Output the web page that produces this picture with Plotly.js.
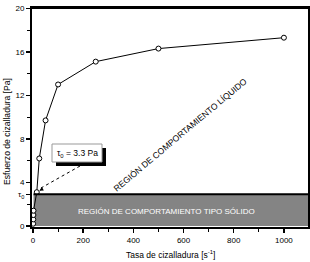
<!DOCTYPE html>
<html>
<head>
<meta charset="utf-8">
<script src="https://cdn.plot.ly/plotly-3.0.1.min.js"></script>
<style>html,body{margin:0;padding:0;background:#fff;}#chart{width:310px;height:262px;}</style>
</head>
<body>
<div id="chart"></div>
<script>
// Data
var shearRate = [0.5, 1, 1.5, 2, 15, 25, 50, 100, 250, 500, 1000];
var shearStress = [0.2, 0.6, 1.0, 1.4, 3.1, 6.2, 9.7, 13.0, 15.1, 16.3, 17.3];
var yTickVals = [0, 2.9, 4, 8, 12, 16, 20];
var yTickText = ['0', 'τ<sub>0</sub>', '4', '8', '12', '16', '20'];
var xTickVals = [0, 200, 400, 600, 800, 1000];
var xTickText = ['0', '200', '400', '600', '800', '1000'];
var tau0 = 2.9;          // top of solid-like region band
var tau0Label = 'τ<sub>0</sub> = 3.3 Pa';
var liquidLabel = 'REGIÓN DE COMPORTAMIENTO LÍQUIDO';
var solidLabel = 'REGIÓN DE COMPORTAMIENTO TIPO SÓLIDO';
var xTitle = 'Tasa de cizalladura [s<sup>-1</sup>]';
var yTitle = 'Esfuerzo de cizalladura [Pa]';

var FONT = '"Liberation Sans", Arial, sans-serif';

// plot area in pixels: x 32..308, y 8..227
var L = 32, R = 308, T = 8, B = 227;
function px(x) { return (x - L) / (R - L); }
function py(y) { return (B - y) / (B - T); }

var trace = {
  x: shearRate, y: shearStress, type: 'scatter', mode: 'lines+markers',
  line: {color: '#000', width: 1},
  marker: {symbol: 'circle', size: 5, color: '#fff', line: {color: '#000', width: 1}},
  hoverinfo: 'none', cliponaxis: false
};

var layout = {
  width: 310, height: 262,
  margin: {l: L, r: 310 - R, t: T, b: 262 - B, pad: 0},
  paper_bgcolor: '#fff', plot_bgcolor: '#fff',
  showlegend: false,
  font: {family: FONT, size: 8, color: '#000'},
  xaxis: {
    range: [-4, 1096], showgrid: false, zeroline: false,
    showline: true, linecolor: '#000', linewidth: 2, mirror: true,
    ticks: 'outside', ticklen: 4, tickwidth: 1.5, tickcolor: '#000',
    tickvals: xTickVals, ticktext: xTickText, ticklabeloverflow: 'allow',
    minor: {ticks: 'outside', ticklen: 3, tickwidth: 1, tickcolor: '#000', dtick: 100, tick0: 0},
    tickfont: {family: FONT, size: 8}
  },
  yaxis: {
    range: [-0.1, 20.03], showgrid: false, zeroline: false,
    showline: true, linecolor: '#000', linewidth: 2, mirror: true,
    ticks: 'outside', ticklen: 4, tickwidth: 1.5, tickcolor: '#000',
    tickvals: yTickVals, ticktext: yTickText, ticklabeloverflow: 'allow',
    minor: {ticks: 'outside', ticklen: 3, tickwidth: 1, tickcolor: '#000', dtick: 2, tick0: 0},
    tickfont: {family: FONT, size: 8}
  },
  shapes: [
    {type: 'rect', xref: 'x', yref: 'y', x0: 2, x1: 1096, y0: 0, y1: tau0,
     fillcolor: '#848484', line: {width: 0}, layer: 'below'},
    {type: 'line', xref: 'x', yref: 'y', x0: 2, x1: 1096, y0: tau0, y1: tau0,
     line: {color: '#000', width: 2}},
    // top frame line
    {type: 'line', xref: 'paper', yref: 'paper', x0: 0, x1: 1, y0: 1, y1: 1,
     line: {color: '#000', width: 2}},
    // shadow of label box
    {type: 'rect', xref: 'paper', yref: 'paper', x0: px(56), x1: px(106), y0: py(148), y1: py(166),
     fillcolor: '#000', line: {width: 0}},
    {type: 'rect', xref: 'paper', yref: 'paper', x0: px(52), x1: px(102), y0: py(144), y1: py(162),
     fillcolor: '#fff', line: {color: '#999', width: 1}},
    // dotted pointer
    {type: 'line', xref: 'paper', yref: 'paper', x0: px(80), x1: px(41), y0: py(166), y1: py(188),
     line: {color: '#000', width: 1, dash: 'dot'}}
  ],
  annotations: [
    {xref: 'paper', yref: 'paper', x: px(77), y: py(153), text: tau0Label, showarrow: false,
     font: {family: FONT, size: 8.5, color: '#000'}, xanchor: 'center', yanchor: 'middle'},
    {xref: 'x', yref: 'y', x: 15, y: 3.1, text: '', showarrow: true, arrowhead: 2, arrowsize: 0.8,
     arrowwidth: 1, arrowcolor: '#000', ax: 7, ay: -4, standoff: 3},
    {xref: 'paper', yref: 'paper', x: px(180), y: py(135), text: liquidLabel, showarrow: false,
     textangle: -40, font: {family: FONT, size: 8.6, color: '#000'}, xanchor: 'center', yanchor: 'middle'},
    {xref: 'paper', yref: 'paper', x: px(166), y: py(211), text: solidLabel, showarrow: false,
     font: {family: FONT, size: 8, color: '#fff'}, xanchor: 'center', yanchor: 'middle'},
    {xref: 'paper', yref: 'paper', x: px(170), y: py(254), text: xTitle, showarrow: false,
     font: {family: FONT, size: 8.5, color: '#000'}, xanchor: 'center', yanchor: 'middle'},
    {xref: 'paper', yref: 'paper', x: px(7), y: py(132), text: yTitle, showarrow: false, textangle: -90,
     font: {family: FONT, size: 8.6, color: '#000'}, xanchor: 'center', yanchor: 'middle'}
  ]
};

Plotly.newPlot('chart', [trace], layout, {staticPlot: true, displayModeBar: false});
</script>
</body>
</html>
